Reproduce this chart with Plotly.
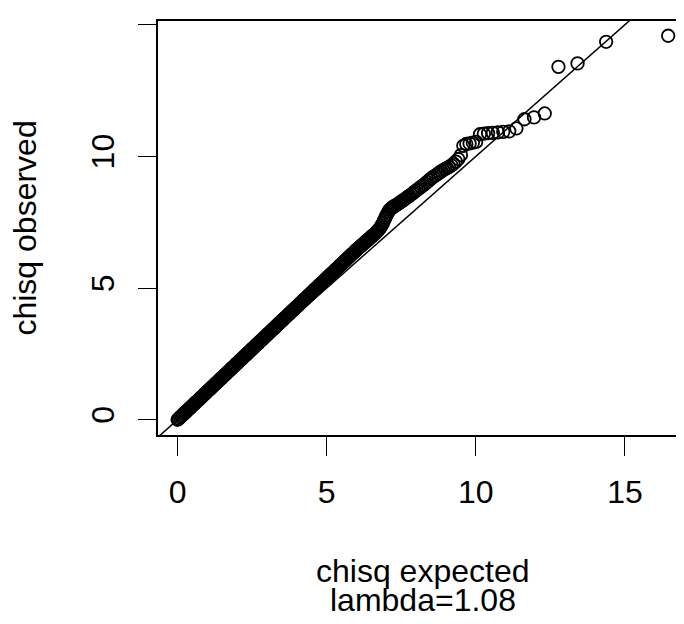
import plotly.graph_objects as go

chisq_expected = [
    0.00, 0.04, 0.08, 0.12, 0.16, 0.20, 0.24, 0.28, 0.32, 0.36,
    0.40, 0.44, 0.48, 0.52, 0.56, 0.60, 0.64, 0.68, 0.72, 0.76,
    0.80, 0.84, 0.88, 0.92, 0.96, 1.00, 1.04, 1.08, 1.12, 1.16,
    1.20, 1.24, 1.28, 1.32, 1.36, 1.40, 1.44, 1.48, 1.52, 1.56,
    1.60, 1.64, 1.68, 1.72, 1.76, 1.80, 1.84, 1.88, 1.92, 1.96,
    2.00, 2.04, 2.08, 2.12, 2.16, 2.20, 2.24, 2.28, 2.32, 2.36,
    2.40, 2.44, 2.48, 2.52, 2.56, 2.60, 2.64, 2.68, 2.72, 2.76,
    2.80, 2.84, 2.88, 2.92, 2.96, 3.00, 3.04, 3.08, 3.12, 3.16,
    3.20, 3.24, 3.28, 3.32, 3.36, 3.40, 3.44, 3.48, 3.52, 3.56,
    3.60, 3.64, 3.68, 3.72, 3.76, 3.80, 3.84, 3.88, 3.92, 3.96,
    4.00, 4.04, 4.08, 4.12, 4.16, 4.20, 4.24, 4.28, 4.32, 4.36,
    4.40, 4.44, 4.48, 4.52, 4.56, 4.60, 4.64, 4.68, 4.72, 4.76,
    4.80, 4.84, 4.88, 4.92, 4.96, 5.00, 5.04, 5.08, 5.12, 5.16,
    5.20, 5.24, 5.28, 5.32, 5.36, 5.40, 5.44, 5.48, 5.52, 5.56,
    5.60, 5.64, 5.68, 5.72, 5.76, 5.80, 5.84, 5.88, 5.92, 5.96,
    6.00, 6.04, 6.08, 6.12, 6.16, 6.20, 6.24, 6.28, 6.32, 6.36,
    6.40, 6.44, 6.48, 6.52, 6.56, 6.60, 6.64, 6.68, 6.72, 6.76,
    6.80, 6.84, 6.88, 6.92, 6.96, 7.00, 7.04, 7.08, 7.12, 7.16,
    7.20, 7.24, 7.28, 7.33, 7.38, 7.42, 7.47, 7.52, 7.56, 7.61,
    7.66, 7.72, 7.77, 7.83, 7.89, 7.95, 8.02, 8.09, 8.16, 8.23,
    8.30, 8.37, 8.44, 8.50, 8.57, 8.65, 8.73, 8.79, 8.85, 8.91,
    8.97, 9.04, 9.10, 9.18, 9.25, 9.33, 9.41, 9.50, 9.58, 9.68,
    9.79, 9.90, 10.01, 10.14, 10.27, 10.41, 10.57, 10.74, 10.92, 11.12,
    11.36, 11.63, 11.95, 12.31, 12.77, 13.41, 14.37, 16.45,
]
chisq_observed = [
    0.00, 0.04, 0.09, 0.13, 0.17, 0.22, 0.26, 0.30, 0.34, 0.39,
    0.43, 0.47, 0.52, 0.56, 0.60, 0.65, 0.69, 0.73, 0.77, 0.82,
    0.86, 0.90, 0.95, 0.99, 1.03, 1.08, 1.12, 1.16, 1.20, 1.25,
    1.29, 1.33, 1.38, 1.42, 1.46, 1.51, 1.55, 1.59, 1.63, 1.68,
    1.72, 1.76, 1.81, 1.85, 1.89, 1.94, 1.98, 2.02, 2.06, 2.11,
    2.15, 2.19, 2.24, 2.28, 2.32, 2.37, 2.41, 2.45, 2.49, 2.54,
    2.58, 2.62, 2.67, 2.71, 2.75, 2.80, 2.84, 2.88, 2.92, 2.97,
    3.01, 3.05, 3.10, 3.14, 3.18, 3.23, 3.27, 3.31, 3.35, 3.40,
    3.44, 3.48, 3.53, 3.57, 3.61, 3.66, 3.70, 3.74, 3.78, 3.83,
    3.87, 3.91, 3.96, 4.00, 4.04, 4.09, 4.13, 4.17, 4.21, 4.26,
    4.30, 4.34, 4.39, 4.43, 4.47, 4.52, 4.56, 4.60, 4.64, 4.69,
    4.73, 4.77, 4.82, 4.86, 4.90, 4.95, 4.99, 5.03, 5.07, 5.12,
    5.16, 5.20, 5.25, 5.29, 5.33, 5.38, 5.42, 5.46, 5.50, 5.55,
    5.59, 5.63, 5.68, 5.72, 5.76, 5.81, 5.85, 5.89, 5.93, 5.98,
    6.02, 6.06, 6.11, 6.15, 6.19, 6.24, 6.28, 6.32, 6.36, 6.41,
    6.45, 6.49, 6.53, 6.57, 6.61, 6.65, 6.69, 6.73, 6.77, 6.81,
    6.85, 6.89, 6.93, 6.97, 7.01, 7.05, 7.09, 7.14, 7.19, 7.24,
    7.30, 7.38, 7.46, 7.56, 7.66, 7.75, 7.84, 7.92, 7.98, 8.02,
    8.06, 8.09, 8.12, 8.15, 8.19, 8.22, 8.26, 8.30, 8.33, 8.37,
    8.41, 8.46, 8.50, 8.55, 8.60, 8.66, 8.72, 8.78, 8.84, 8.90,
    8.96, 9.03, 9.10, 9.16, 9.22, 9.28, 9.34, 9.39, 9.44, 9.48,
    9.52, 9.56, 9.60, 9.66, 9.72, 9.80, 9.90, 10.05, 10.40, 10.47,
    10.49, 10.52, 10.55, 10.84, 10.86, 10.88, 10.89, 10.91, 10.93, 10.95,
    11.06, 11.41, 11.48, 11.63, 13.40, 13.53, 14.35, 14.58,
]

x_ticks = [0, 5, 10, 15]
y_ticks = [0, 5, 10, 15]
x_title = "chisq expected"
x_subtitle = "lambda=1.08"
y_title = "chisq observed"
diag = [-1, 16]

FONT = "Liberation Sans, Arial, Helvetica, sans-serif"
FS = 32

fig = go.Figure()
fig.add_trace(go.Scatter(
    x=chisq_expected, y=chisq_observed, mode="markers",
    marker=dict(symbol="circle-open", size=12.5, color="black",
                line=dict(color="black", width=1.8)),
    showlegend=False, hoverinfo="skip",
))
fig.add_trace(go.Scatter(
    x=diag, y=diag, mode="lines",
    line=dict(color="black", width=1.5),
    showlegend=False, hoverinfo="skip",
))

fig.update_layout(
    width=676, height=616, autosize=False,
    margin=dict(l=150, r=0, t=13, b=189, pad=0),
    paper_bgcolor="white", plot_bgcolor="white",
    font=dict(family=FONT, size=FS, color="black"),
    xaxis=dict(
        range=[-0.658, 16.98], tickmode="array", tickvals=x_ticks,
        ticktext=[str(v) for v in x_ticks],
        ticks="outside", ticklen=19, tickwidth=1.3, tickcolor="black",
        showline=True, linewidth=2, linecolor="black", mirror=True,
        showgrid=False, zeroline=False,
        tickfont=dict(family=FONT, size=FS, color="black"),
        ticklabelstandoff=9,
    ),
    yaxis=dict(
        range=[-0.58, 15.14], tickmode="array", tickvals=y_ticks,
        ticktext=[str(v) for v in y_ticks],
        ticks="outside", ticklen=18, tickwidth=1.3, tickcolor="black",
        showline=True, linewidth=2, linecolor="black", mirror=False,
        showgrid=False, zeroline=False, tickangle=-90,
        tickfont=dict(family=FONT, size=FS, color="black"),
        ticklabelstandoff=11,
    ),
    annotations=[
        dict(text=x_title, xref="paper", yref="paper", x=0.5034, y=-0.329,
             xanchor="center", yanchor="middle", showarrow=False,
             font=dict(family=FONT, size=FS, color="black")),
        dict(text=x_subtitle, xref="paper", yref="paper", x=0.5034, y=-0.399,
             xanchor="center", yanchor="middle", showarrow=False,
             font=dict(family=FONT, size=FS, color="black")),
        dict(text=y_title, xref="paper", yref="paper", x=-0.2529, y=0.501,
             xanchor="center", yanchor="middle", showarrow=False, textangle=-90,
             font=dict(family=FONT, size=FS, color="black")),
    ],
)

fig.write_html("out.html")
